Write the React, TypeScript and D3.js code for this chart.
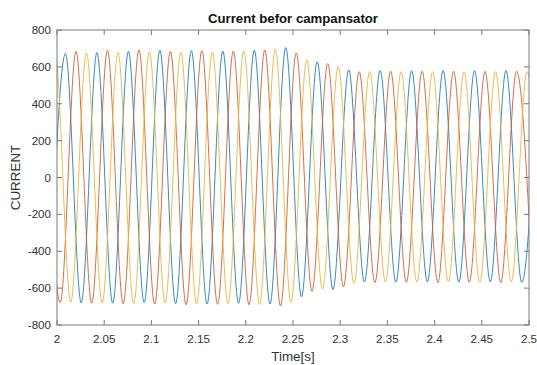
import React from "react";
import * as d3 from "d3";

// ---- data ----
const title = "Current befor campansator";
const xLabel = "Time[s]";
const yLabel = "CURRENT";
const xTicks = [2, 2.05, 2.1, 2.15, 2.2, 2.25, 2.3, 2.35, 2.4, 2.45, 2.5];
const xTickLabels = ["2", "2.05", "2.1", "2.15", "2.2", "2.25", "2.3", "2.35", "2.4", "2.45", "2.5"];
const yTicks = [-800, -600, -400, -200, 0, 200, 400, 600, 800];

// samples are successive extrema (peak / trough), one every half period
const halfPeriod = 1 / 60;
const phaseAStart = 1.99233;
const phaseBStart = 1.98678;
const phaseCStart = 1.98122;

const phaseA = [
  -675, 672, -680, 678, -682, 684, -678, 690, -684, 688, -686, 685, -682, 690, -686, 705,
  -647, 628, -608, 584, -566, 580, -568, 579, -566, 580, -568, 580, -566, 580, -568, 580,
];
const phaseB = [
  680, -678, 684, -682, 690, -684, 692, -686, 684, -690, 688, -688, 686, -690, 692, -697,
  676, -618, 618, -592, 574, -570, 576, -568, 576, -570, 576, -568, 576, -570, 576, -568,
];
const phaseC = [
  -670, 672, -676, 676, -680, 678, -684, 682, -680, 680, -686, 680, -684, 686, -688, 695,
  -677, 636, -605, 603, -574, 574, -566, 574, -568, 574, -566, 574, -568, 574, -566, 574, -568,
];

const seriesColors = ["#1f7fb6", "#cf5f35", "#e8b63c"];

const W = 537;
const H = 365;
const M = { left: 57, right: 8, top: 30, bottom: 40 };

export default function App() {
  const x = d3.scaleLinear().domain([2, 2.5]).range([M.left, W - M.right]);
  const y = d3.scaleLinear().domain([-800, 800]).range([H - M.bottom, M.top]);
  const line = d3
    .line<[number, number]>()
    .x((d) => x(d[0]))
    .y((d) => y(d[1]))
    .curve(d3.curveMonotoneX);

  const series = [
    { start: phaseAStart, vals: phaseA },
    { start: phaseBStart, vals: phaseB },
    { start: phaseCStart, vals: phaseC },
  ].map((s) => s.vals.map((v, i) => [s.start + i * halfPeriod, v] as [number, number]));

  const x0 = x(2), x1 = x(2.5), y0 = y(-800), y1 = y(800);
  const axisColor = "#7a7a7a";
  const textColor = "#333";
  const font = "'Liberation Sans', Arial, sans-serif";
  const tl = 5;

  return (
    <svg
      width={W}
      height={H}
      style={{ position: "absolute", left: 0, top: 0, background: "#fff" }}
      fontFamily={font}
    >
      <defs>
        <clipPath id="plotclip">
          <rect x={x0} y={y1} width={x1 - x0} height={y0 - y1} />
        </clipPath>
      </defs>
      <rect x={0} y={0} width={W} height={H} fill="#fff" />
      <g clipPath="url(#plotclip)">
        {series.map((pts, i) => (
          <path key={i} d={line(pts) || ""} fill="none" stroke={seriesColors[i]} strokeWidth={1} strokeOpacity={0.9} />
        ))}
      </g>
      <rect x={x0} y={y1} width={x1 - x0} height={y0 - y1} fill="none" stroke={axisColor} strokeWidth={1} />
      {xTicks.map((t, i) => (
        <g key={"x" + i}>
          <line x1={x(t)} x2={x(t)} y1={y0} y2={y0 - tl} stroke={axisColor} />
          <line x1={x(t)} x2={x(t)} y1={y1} y2={y1 + tl} stroke={axisColor} />
          <text x={x(t)} y={y0 + 18} fontSize={11.6} textAnchor="middle" fill={textColor}>
            {xTickLabels[i]}
          </text>
        </g>
      ))}
      {yTicks.map((t, i) => (
        <g key={"y" + i}>
          <line x1={x0} x2={x0 + tl} y1={y(t)} y2={y(t)} stroke={axisColor} />
          <line x1={x1} x2={x1 - tl} y1={y(t)} y2={y(t)} stroke={axisColor} />
          <text x={x0 - 6} y={y(t) + 4} fontSize={11.6} textAnchor="end" fill={textColor}>
            {t}
          </text>
        </g>
      ))}
      <text x={(x0 + x1) / 2} y={361} fontSize={13.4} textAnchor="middle" fill={textColor}>
        {xLabel}
      </text>
      <text
        transform={`translate(20, ${(y0 + y1) / 2}) rotate(-90)`}
        fontSize={13.4}
        textAnchor="middle"
        fill={textColor}
      >
        {yLabel}
      </text>
      <text x={(x0 + x1) / 2} y={23} fontSize={13.2} fontWeight="bold" textAnchor="middle" fill="#111">
        {title}
      </text>
    </svg>
  );
}
